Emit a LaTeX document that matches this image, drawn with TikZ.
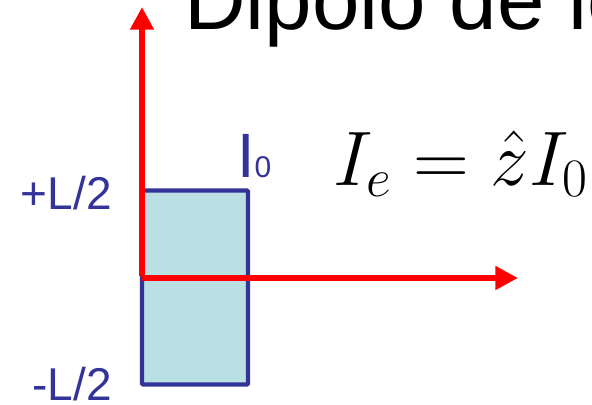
\RequirePackage{fix-cm}
\documentclass[tikz,border=0pt]{standalone}
\usepackage{fontspec}
\setmainfont{Liberation Sans}
\usepackage{amsmath}
\usetikzlibrary{arrows.meta, positioning}
\definecolor{dipblue}{HTML}{333399}
\definecolor{dipfill}{HTML}{BBE0E3}

\begin{document}
\begin{tikzpicture}[
x=0.75pt, y=-0.75pt,
axis/.style={draw=red, line width=5.2pt, -{Triangle[length=17pt, width=17pt]}},
lbl/.style={inner sep=0pt, text=dipblue}
]
\useasboundingbox (0,0) rectangle (592,404);
\clip (0,0) rectangle (592,404);

% title, cut by the frame
\node[inner sep=0pt, anchor=base west] (title) at (184,29)
  {\fontsize{64}{64}\selectfont Dipolo de lo};

% the dipole
\path (142,190.5) coordinate (dtl) (248,384.5) coordinate (dbr);
\draw[draw=dipblue, fill=dipfill, line width=3.3pt, rounded corners=1pt] (dtl) rectangle (dbr);

\node[lbl, anchor=base east] (ltop) at (112,209) {\fontsize{34.5}{34.5}\selectfont +L/2};
\node[lbl, anchor=base east] (lbot) at (112,400) {\fontsize{34.5}{34.5}\selectfont -L/2};
\node[lbl, anchor=base west] (curr) at (237,177)
  {\fontsize{47}{47}\selectfont I\fontsize{22.5}{22.5}\selectfont 0};

% formula
\node[inner sep=0pt, anchor=base west] (eq) at (333,185)
  {\fontsize{58}{58}\selectfont $I_e = \hat{z} I_0$};

% axes
\coordinate (orig) at (142,276);
\coordinate (ztip) at (142,7);
\coordinate (xorig) at (142,278);
\coordinate (xtip) at (518,278);
\draw[axis] (orig) -- (ztip);
\draw[axis] (xorig) -- (xtip);

\end{tikzpicture}
\end{document}
